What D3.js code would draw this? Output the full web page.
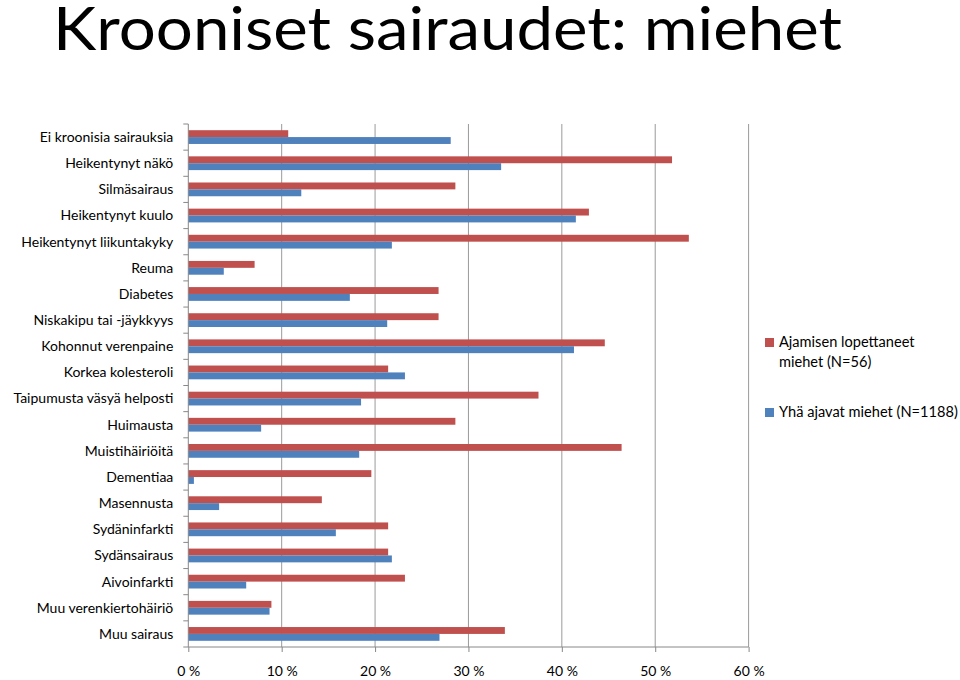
<!DOCTYPE html>
<html>
<head>
<meta charset="utf-8">
<script src="https://cdn.jsdelivr.net/npm/d3@7"></script>
<style>
  html, body { margin: 0; padding: 0; background: #fff; }
  svg { display: block; }
  text { font-family: Lato, "Open Sans", sans-serif; fill: #000; }
</style>
</head>
<body>
<svg id="chart" width="960" height="680"></svg>
<script>
const title = "Krooniset sairaudet: miehet";
const categories = [
  "Ei kroonisia sairauksia", "Heikentynyt näkö", "Silmäsairaus", "Heikentynyt kuulo",
  "Heikentynyt liikuntakyky", "Reuma", "Diabetes", "Niskakipu tai -jäykkyys",
  "Kohonnut verenpaine", "Korkea kolesteroli", "Taipumusta väsyä helposti", "Huimausta",
  "Muistihäiriöitä", "Dementiaa", "Masennusta", "Sydäninfarkti", "Sydänsairaus",
  "Aivoinfarkti", "Muu verenkiertohäiriö", "Muu sairaus"
];
const seriesNames = ["Ajamisen lopettaneet miehet (N=56)", "Yhä ajavat miehet (N=1188)"];
const stoppedValues = [10.7, 51.8, 28.6, 42.9, 53.6, 7.1, 26.8, 26.8, 44.6, 21.4, 37.5, 28.6, 46.4, 19.6, 14.3, 21.4, 21.4, 23.2, 8.9, 33.9];
const drivingValues = [28.1, 33.5, 12.1, 41.5, 21.8, 3.8, 17.3, 21.3, 41.3, 23.2, 18.5, 7.8, 18.3, 0.6, 3.3, 15.8, 21.8, 6.2, 8.7, 26.9];
const xTicks = [0, 10, 20, 30, 40, 50, 60];
const colors = ["#C0504D", "#4F81BD"];

(function () {
const svg = d3.select("#chart");

// Title
svg.append("text")
  .attr("x", 53).attr("y", 50)
  .attr("font-size", 60)
  .attr("textLength", 789).attr("lengthAdjust", "spacingAndGlyphs")
  .text(title);

const pLeft = 188.3, pRight = 748.6, pTop = 124, pBottom = 647;
const x = d3.scaleLinear().domain([0, 60]).range([pLeft, pRight]);
const y = d3.scaleBand().domain(categories).range([pTop, pBottom]).padding(0);
const sub = d3.scaleBand().domain([0, 1]).range([0, y.bandwidth()]).paddingInner(0).paddingOuter(0.9);

// Gridlines
svg.append("g").selectAll("line").data(xTicks.filter(t => t > 0)).join("line")
  .attr("x1", d => x(d)).attr("x2", d => x(d))
  .attr("y1", pTop).attr("y2", pBottom)
  .attr("stroke", "#9a9a9a").attr("stroke-width", 1);

// Bars
const rows = categories.map((c, i) => ({ c, vals: [stoppedValues[i], drivingValues[i]] }));
const g = svg.append("g");
rows.forEach(r => {
  r.vals.forEach((v, k) => {
    g.append("rect")
      .attr("x", x(0))
      .attr("y", y(r.c) + sub(k))
      .attr("width", x(v) - x(0))
      .attr("height", sub.bandwidth())
      .attr("fill", colors[k]);
  });
});

// X axis
const xAxis = d3.axisBottom(x).tickValues(xTicks).tickSize(5).tickPadding(14)
  .tickFormat(d => d + " %");
const xa = svg.append("g").attr("transform", `translate(0,${pBottom})`).call(xAxis);
xa.select(".domain").attr("stroke", "#888").attr("d", `M${pLeft},0H${pRight}`);
xa.selectAll(".tick line").attr("stroke", "#888");
xa.selectAll(".tick text").attr("font-size", 14).attr("font-family", "Lato, sans-serif").attr("fill", "#000");

// Y axis: ticks at band boundaries
const ya = svg.append("g").attr("transform", `translate(${pLeft},0)`);
ya.append("line").attr("x1", 0).attr("x2", 0).attr("y1", pTop).attr("y2", pBottom).attr("stroke", "#888");
const boundaries = categories.map(c => y(c)).concat([pBottom]);
ya.selectAll("line.tk").data(boundaries).join("line").attr("class", "tk")
  .attr("x1", -5).attr("x2", 0).attr("y1", d => d).attr("y2", d => d).attr("stroke", "#888");
ya.selectAll("text").data(categories).join("text")
  .attr("x", -15).attr("y", d => y(d) + y.bandwidth() / 2)
  .attr("dy", "0.35em").attr("text-anchor", "end")
  .attr("font-size", 14)
  .text(d => d);

// Legend
const leg = svg.append("g");
leg.append("rect").attr("x", 765).attr("y", 338).attr("width", 9).attr("height", 9).attr("fill", colors[0]);
const lt = leg.append("text").attr("x", 779).attr("y", 347).attr("font-size", 14.6);
lt.append("tspan").attr("x", 779).text("Ajamisen lopettaneet");
lt.append("tspan").attr("x", 779).attr("dy", 19.5).text("miehet (N=56)");
leg.append("rect").attr("x", 765).attr("y", 408).attr("width", 9).attr("height", 9).attr("fill", colors[1]);
leg.append("text").attr("x", 779).attr("y", 417).attr("font-size", 14.6).text(seriesNames[1]);
})();
</script>
</body>
</html>
